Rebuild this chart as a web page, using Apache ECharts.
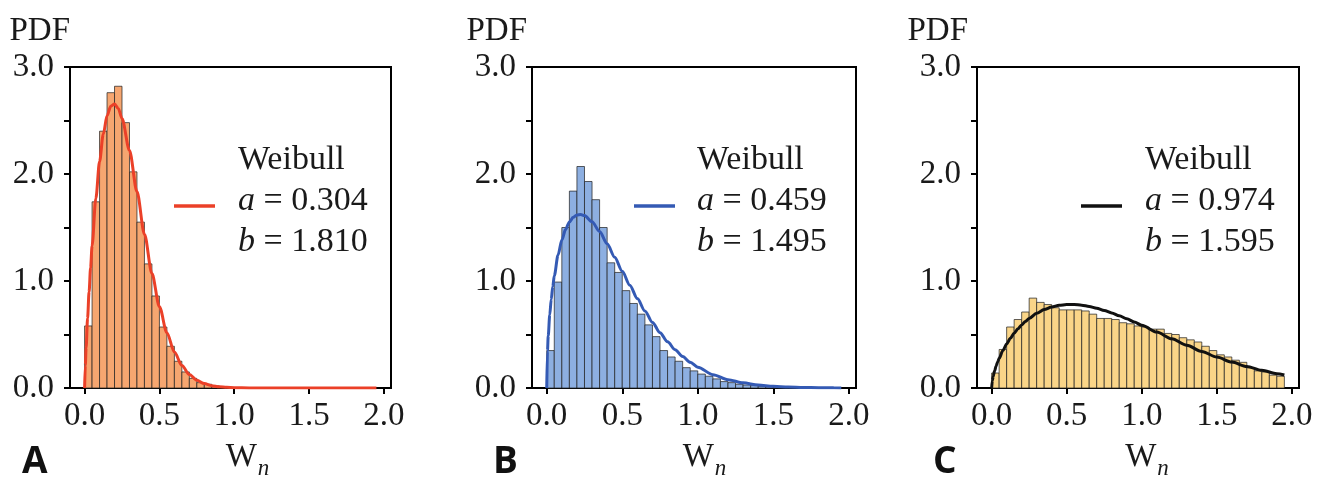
<!DOCTYPE html>
<html>
<head>
<meta charset="utf-8">
<script src="https://cdn.jsdelivr.net/npm/echarts@6/dist/echarts.min.js"></script>
<style>
  html, body { margin: 0; padding: 0; background: #ffffff; }
  #chart { width: 1324px; height: 478px; }
</style>
</head>
<body>
<div id="chart"></div>
<script>
// ---- data ----
const panelLetters = ['A', 'B', 'C'];
const weibullScale = [0.304, 0.459, 0.974];   // a
const weibullShape = [1.810, 1.495, 1.595];   // b
const binWidth = 0.05;
const xTicks = [0.0, 0.5, 1.0, 1.5, 2.0];

// histogram densities, bins of width 0.05 starting at 0
const histA = [0.58, 1.74, 2.40, 2.76, 2.82, 2.48, 2.02, 1.55, 1.16, 0.86,
               0.57, 0.39, 0.25, 0.15, 0.09, 0.05, 0.035, 0.02, 0.01, 0.005, 0.003];
const histB = [0.35, 0.99, 1.50, 1.84, 2.07, 1.93, 1.76, 1.50, 1.17, 1.08,
               0.91, 0.79, 0.69, 0.59, 0.48, 0.35, 0.29, 0.25, 0.19, 0.16,
               0.13, 0.11, 0.085, 0.06, 0.05, 0.035, 0.028, 0.022, 0.016, 0.012,
               0.01, 0.008, 0.006, 0.005, 0.004, 0.003, 0.002, 0.002, 0.001];
const histC = [0.14, 0.36, 0.57, 0.64, 0.71, 0.84, 0.80, 0.78, 0.75, 0.73,
               0.73, 0.73, 0.72, 0.69, 0.65, 0.65, 0.64, 0.61, 0.60, 0.58,
               0.57, 0.55, 0.55, 0.51, 0.50, 0.47, 0.45, 0.43, 0.39, 0.35,
               0.31, 0.29, 0.26, 0.24, 0.19, 0.16, 0.15, 0.12, 0.11];

// fitted Weibull density curves
const curveX = [0, 0.005, 0.01, 0.02, 0.03, 0.04, 0.05, 0.075, 0.1, 0.125,
                0.15, 0.175, 0.2, 0.225, 0.25, 0.3, 0.35, 0.4, 0.45, 0.5,
                0.55, 0.6, 0.65, 0.7, 0.75, 0.8, 0.85, 0.9, 0.95, 1.0,
                1.1, 1.2, 1.3, 1.4, 1.5, 1.6, 1.7, 1.8, 1.9, 1.95];
const curveA = [0, 0.214, 0.374, 0.652, 0.899, 1.123, 1.329, 1.770, 2.117, 2.373,
                2.544, 2.634, 2.655, 2.613, 2.519, 2.219, 1.836, 1.438, 1.070, 0.760,
                0.517, 0.337, 0.211, 0.127, 0.073, 0.041, 0.022, 0.011, 0.006, 0.003,
                0.001, 0, 0, 0, 0, 0, 0, 0, 0, 0];
const curveB = [0, 0.347, 0.488, 0.684, 0.830, 0.948, 1.048, 1.243, 1.383, 1.483,
                1.552, 1.595, 1.617, 1.622, 1.611, 1.554, 1.462, 1.348, 1.222, 1.091,
                0.961, 0.836, 0.720, 0.613, 0.517, 0.432, 0.358, 0.295, 0.240, 0.195,
                0.125, 0.078, 0.048, 0.028, 0.016, 0.009, 0.005, 0.003, 0.002, 0.001];
const curveC = [0, 0.071, 0.107, 0.162, 0.206, 0.244, 0.277, 0.350, 0.412, 0.465,
                0.512, 0.553, 0.589, 0.622, 0.650, 0.698, 0.733, 0.757, 0.773, 0.780,
                0.780, 0.774, 0.762, 0.746, 0.725, 0.702, 0.675, 0.647, 0.617, 0.586,
                0.523, 0.460, 0.399, 0.341, 0.289, 0.242, 0.201, 0.165, 0.134, 0.122];

// ---- styling ----
const SERIF = "'Liberation Serif', 'Times New Roman', 'DejaVu Serif', serif";
const TEXT = '#1a1a1a';
const FS = 33;
const LEGEND_FS = 34;
const histColors = ['#F6A670', '#8DAFE1', '#FAD588'];
const curveColors = ['#EB4028', '#345AB4', '#111111'];
const grids = [
  { left: 70,  top: 67, width: 321, height: 321 },
  { left: 532, top: 67, width: 324, height: 321 },
  { left: 977, top: 67, width: 322, height: 321 }
];
const pdfPad = [0, 5, 9];
const xNamePad = [34, 21, 18];
const legendLineX = [174, 634, 1081];
const legendTextX = [238, 697, 1145];
const letterX = [22, 493, 933];

const hists = [histA, histB, histC];
const curves = [curveA, curveB, curveC];

function histRenderItem(params, api) {
  const h = api.value(2);
  if (!(h > 0)) return null;
  const p0 = api.coord([api.value(0), 0]);
  const p1 = api.coord([api.value(1), h]);
  return {
    type: 'rect',
    shape: { x: p0[0], y: p1[1], width: p1[0] - p0[0], height: p0[1] - p1[1] },
    style: { fill: api.visual('color'), stroke: 'rgba(35,35,35,0.72)', lineWidth: 1 }
  };
}

const option = {
  backgroundColor: '#ffffff',
  animation: false,
  grid: grids.map(g => Object.assign({
    show: true, borderColor: '#000', borderWidth: 2, backgroundColor: 'transparent',
    containLabel: false, outerBoundsMode: 'none'
  }, g)),
  xAxis: grids.map((g, i) => ({
    type: 'value', gridIndex: i, min: -0.0975, max: 2.0475,
    axisLine: { show: true, onZero: false, lineStyle: { color: '#000', width: 2 } },
    axisTick: { show: true, length: 6, customValues: xTicks, lineStyle: { color: '#000', width: 2 } },
    axisLabel: {
      customValues: xTicks, formatter: v => Number(v).toFixed(1), margin: 12,
      fontFamily: SERIF, fontSize: FS, color: TEXT
    },
    splitLine: { show: false },
    name: '{w|W}{n|n}', nameLocation: 'middle', nameGap: 53,
    nameTextStyle: {
      padding: [0, 0, 0, xNamePad[i]],
      rich: {
        w: { fontFamily: SERIF, fontSize: FS, color: TEXT, lineHeight: 34, verticalAlign: 'top' },
        n: { fontFamily: SERIF, fontSize: 23, fontStyle: 'italic', color: TEXT, lineHeight: 23,
             verticalAlign: 'top', padding: [16, 0, 0, 1] }
      }
    }
  })),
  yAxis: grids.map((g, i) => ({
    type: 'value', gridIndex: i, min: 0, max: 3, interval: 0.5,
    axisLine: { show: true, onZero: false, lineStyle: { color: '#000', width: 2 } },
    axisTick: { show: true, length: 6, lineStyle: { color: '#000', width: 2 } },
    axisLabel: {
      formatter: v => (Math.abs(v - Math.round(v)) < 1e-9 ? Number(v).toFixed(1) : ''),
      margin: 16, padding: [12, 0, 0, 0], fontFamily: SERIF, fontSize: FS, color: TEXT
    },
    splitLine: { show: false },
    name: 'PDF', nameLocation: 'end', nameGap: 36,
    nameTextStyle: {
      align: 'right', verticalAlign: 'middle', padding: [0, pdfPad[i], 0, 0],
      fontFamily: SERIF, fontSize: FS, color: TEXT
    }
  })),
  series: [].concat(
    hists.map((hist, i) => ({
      type: 'custom', xAxisIndex: i, yAxisIndex: i, silent: true, z: 2,
      itemStyle: { color: histColors[i] },
      encode: { x: [0, 1], y: 2 },
      data: hist.map((h, k) => [k * binWidth, (k + 1) * binWidth, h]),
      renderItem: histRenderItem
    })),
    curves.map((c, i) => ({
      type: 'line', xAxisIndex: i, yAxisIndex: i, silent: true, z: 3,
      symbol: 'none', showSymbol: false, smooth: 0.3, smoothMonotone: 'x',
      lineStyle: { color: curveColors[i], width: 3 },
      data: curveX.map((x, k) => [x, c[k]])
    }))
  ),
  graphic: [].concat(
    // legend: line sample + fitted parameters
    grids.map((g, i) => ({
      type: 'group', silent: true,
      children: [
        { type: 'line', shape: { x1: legendLineX[i], y1: 206, x2: legendLineX[i] + 41, y2: 206 },
          style: { stroke: curveColors[i], lineWidth: 3.5 } },
        { type: 'text', x: legendTextX[i], y: 140,
          style: {
            text: '{n|Weibull}\n{i|a}{n| = ' + weibullScale[i].toFixed(3) + '}\n{i|b}{n| = ' + weibullShape[i].toFixed(3) + '}',
            verticalAlign: 'top', align: 'left',
            rich: {
              n: { fontFamily: SERIF, fontSize: LEGEND_FS, fill: TEXT, lineHeight: 41 },
              i: { fontFamily: SERIF, fontSize: LEGEND_FS, fontStyle: 'italic', fill: TEXT, lineHeight: 41 }
            }
          } }
      ]
    })),
    // panel letters
    panelLetters.map((t, i) => ({
      type: 'text', x: letterX[i], y: 462, silent: true,
      style: { text: t, fontFamily: "'Open Sans', 'Liberation Sans', sans-serif", fontWeight: 'bold',
               fontSize: 37, fill: '#111', verticalAlign: 'middle', align: 'left' }
    }))
  )
};

const chart = echarts.init(document.getElementById('chart'), null, { renderer: 'canvas' });
chart.setOption(option);
</script>
</body>
</html>
